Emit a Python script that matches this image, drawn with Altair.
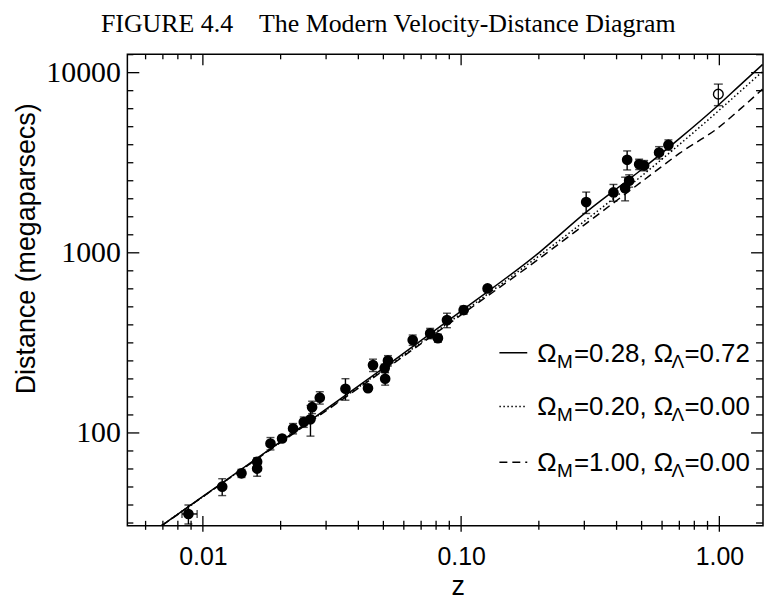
import altair as alt
import pandas as pd

# ---------------- data ----------------
z_obs = [0.00879, 0.01188, 0.01411, 0.01622, 0.01622, 0.01827, 0.02026, 0.02235,
         0.02459, 0.02610, 0.02648, 0.02836, 0.03565, 0.04359, 0.04558, 0.05059,
         0.05208, 0.05080, 0.06494, 0.07589, 0.08132, 0.08814, 0.1023, 0.1266,
         0.3050, 0.389, 0.4316, 0.4474, 0.4395, 0.4891, 0.5114, 0.5842, 0.6349]
d_obs = [35.5, 50.3, 59.7, 69.2, 63.4, 87.4, 93.1, 105.8,
         115, 119, 139, 157, 176, 177, 238, 229,
         252, 200, 328, 357, 336, 423, 481, 634,
         1913, 2164, 2286, 2512, 3281, 3103, 3052, 3601, 3972]
d_err = [4.3, 5.4, 3.1, 3.6, 5.9, 6.9, 3.6, 7.0,
         7.6, 23, 11, 12.4, 24, 6.9, 18.8, 11.9,
         16.6, 15.8, 21.6, 23.6, 17.5, 39, 25, 24.7,
         260, 232, 343, 198, 397, 205, 201, 284, 262]

z_open = [0.991]
d_open = [7600]
d_open_err = [1040]

z_herr_lo = [0.0083]
z_herr_hi = [0.0095]
d_herr = [35.5]

z_model = [0.0069, 0.01, 0.02, 0.05, 0.1, 0.2, 0.3, 0.5, 0.7, 1.0, 1.2, 1.47]
d_lcdm = [30.5, 44.4, 89.6, 229, 475, 1000, 1650, 2900, 4300, 6680, 8500, 11100]
d_openmodel = [30.5, 44.3, 89.0, 225, 460, 960, 1495, 2670, 3990, 6200, 7830, 10150]
d_eds = [30.4, 44.2, 88.5, 222, 452, 925, 1430, 2480, 3560, 5000, 6250, 8100]

x_major = [0.01, 0.1, 1.0]
x_minor = [0.006, 0.007, 0.008, 0.009, 0.02, 0.03, 0.04, 0.05, 0.06, 0.07, 0.08,
           0.09, 0.2, 0.3, 0.4, 0.5, 0.6, 0.7, 0.8, 0.9]
y_major = [100, 1000, 10000]
y_minor = [10 ** (k / 10) for k in range(15, 42) if k % 10 != 0]

# ---------------- layout constants ----------------
W, H = 639, 474
XDOM = [0.0051, 1.476]
YDOM = [30.5, 12640]
SANS = "Liberation Sans"
SERIF = "Liberation Serif"

xs = alt.Scale(type="log", domain=XDOM, nice=False)
ys = alt.Scale(type="log", domain=YDOM, nice=False)

obs = pd.DataFrame({"z": z_obs, "D": d_obs,
                    "lo": [d - e for d, e in zip(d_obs, d_err)],
                    "hi": [d + e for d, e in zip(d_obs, d_err)]})
opn = pd.DataFrame({"z": z_open, "D": d_open,
                    "lo": [d - e for d, e in zip(d_open, d_open_err)],
                    "hi": [d + e for d, e in zip(d_open, d_open_err)]})
herr = pd.DataFrame({"z": z_herr_lo, "z2": z_herr_hi, "D": d_herr})
models = pd.DataFrame({"z": z_model, "lcdm": d_lcdm, "open": d_openmodel, "eds": d_eds})

xaxis = alt.Axis(values=x_major, format=".2f", grid=False, ticks=False, domain=False,
                 labelFont=SANS, labelFontSize=25, labelColor="black", labelPadding=19,
                 title="z", titleFont=SANS, titleFontSize=27, titleFontWeight="normal",
                 titleColor="black", titlePadding=4, titleX=332, titleAnchor="middle")
yaxis = alt.Axis(values=y_major, format="d", grid=False, ticks=False, domain=False,
                 labelFont=SERIF, labelFontSize=30, labelColor="black", labelPadding=7,
                 title="Distance (megaparsecs)", titleFont=SANS, titleFontSize=27,
                 titleFontWeight="normal", titleColor="black", titlePadding=5,
                 titleY=195, titleAnchor="middle")


def X(field):
    return alt.X(field, scale=xs, axis=xaxis)


def Y(field):
    return alt.Y(field, scale=ys, axis=yaxis)


points = alt.Chart(obs).mark_circle(size=115, color="black", opacity=1).encode(
    x=X("z:Q"), y=Y("D:Q"))
ebar = alt.Chart(obs).mark_rule(color="black", strokeWidth=1.4).encode(
    x=X("z:Q"), y=Y("lo:Q"), y2="hi:Q")
cap_lo = alt.Chart(obs).mark_tick(orient="horizontal", size=8, thickness=1.4, color="black").encode(
    x=X("z:Q"), y=Y("lo:Q"))
cap_hi = alt.Chart(obs).mark_tick(orient="horizontal", size=8, thickness=1.4, color="black").encode(
    x=X("z:Q"), y=Y("hi:Q"))

open_pt = alt.Chart(opn).mark_point(size=95, color="black", filled=False, strokeWidth=1.4,
                                    opacity=1).encode(x=X("z:Q"), y=Y("D:Q"))
open_bar = alt.Chart(opn).mark_rule(color="black", strokeWidth=1.2).encode(
    x=X("z:Q"), y=Y("lo:Q"), y2="hi:Q")
open_cap_lo = alt.Chart(opn).mark_tick(orient="horizontal", size=9, thickness=1.4, color="black").encode(
    x=X("z:Q"), y=Y("lo:Q"))
open_cap_hi = alt.Chart(opn).mark_tick(orient="horizontal", size=9, thickness=1.4, color="black").encode(
    x=X("z:Q"), y=Y("hi:Q"))

hbar = alt.Chart(herr).mark_rule(color="black", strokeWidth=1.4).encode(
    x=X("z:Q"), x2="z2:Q", y=Y("D:Q"))
hcap1 = alt.Chart(herr).mark_tick(orient="vertical", size=8, thickness=1.4, color="black").encode(
    x=X("z:Q"), y=Y("D:Q"))
hcap2 = alt.Chart(herr).mark_tick(orient="vertical", size=8, thickness=1.4, color="black").encode(
    x=X("z2:Q"), y=Y("D:Q"))


def model_line(col, dash):
    kw = {"color": "black", "strokeWidth": 1.5, "clip": True}
    if dash:
        kw["strokeDash"] = dash
    return alt.Chart(models).mark_line(interpolate="monotone", **kw).encode(
        x=X("z:Q"), y=Y(f"{col}:Q"))


l1 = model_line("lcdm", None)
l2 = model_line("open", [1.5, 2.5])
l3 = model_line("eds", [8, 5])


# ---------------- frame ticks ----------------
def xticks(vals, y1, y2):
    return alt.Chart(pd.DataFrame({"z": vals})).mark_rule(color="black", strokeWidth=1.3).encode(
        x=X("z:Q"), y=alt.value(y1), y2=alt.value(y2))


def yticks(vals, x1, x2):
    return alt.Chart(pd.DataFrame({"D": vals})).mark_rule(color="black", strokeWidth=1.3).encode(
        y=Y("D:Q"), x=alt.value(x1), x2=alt.value(x2))


ticks = [
    xticks(x_major, H + 6, H - 10), xticks(x_minor, H + 4, H - 5),
    xticks(x_major, 0, 11), xticks(x_minor, 0, 5),
    yticks(y_major, 0, 12), yticks(y_minor, 0, 6),
    yticks(y_major, W, W - 12), yticks(y_minor, W, W - 7),
]

# ---------------- in-plot legend ----------------
leg_rows = [301, 355, 411]
leg_samples = [None, [1.5, 2.5], [8, 5]]
leg_m = ["=0.28, Ω", "=0.20, Ω", "=1.00, Ω"]
leg_l = ["=0.72", "=0.00", "=0.00"]

legend_layers = []
for yy, dash, mtxt, ltxt in zip(leg_rows, leg_samples, leg_m, leg_l):
    kw = {"color": "black", "strokeWidth": 1.5}
    if dash:
        kw["strokeDash"] = dash
    legend_layers.append(
        alt.Chart(pd.DataFrame({"a": [0]})).mark_rule(**kw).encode(
            x=alt.value(374), x2=alt.value(402), y=alt.value(yy - 1)))
    pieces = [("Ω", 412, 0, 26), ("M", 432, 8, 19), (mtxt, 449, 0, 26),
              ("Λ", 547, 8, 19), (ltxt, 560, 0, 26)]
    for txt, xx, dy, fs in pieces:
        legend_layers.append(
            alt.Chart(pd.DataFrame({"t": [txt]})).mark_text(
                font=SANS, fontSize=fs, align="left", baseline="middle", color="black").encode(
                text="t:N", x=alt.value(xx), y=alt.value(yy + dy)))

chart = alt.layer(
    points, l1, l2, l3, ebar, cap_lo, cap_hi, open_pt, open_bar, open_cap_lo, open_cap_hi,
    hbar, hcap1, hcap2, *ticks, *legend_layers
).properties(
    width=W, height=H,
    padding={"left": 5, "right": 0, "top": 1, "bottom": 5},
    title=alt.TitleParams(
        text="FIGURE 4.4\u00a0\u00a0\u00a0\u00a0The Modern Velocity-Distance Diagram",
        font=SERIF, fontSize=26, fontWeight="normal", color="black",
        anchor="middle", frame="bounds", offset=17),
    background="white",
).configure_view(stroke="black", strokeWidth=1.5)

chart.save("out.html", embed_options={"renderer": "svg", "actions": False})
